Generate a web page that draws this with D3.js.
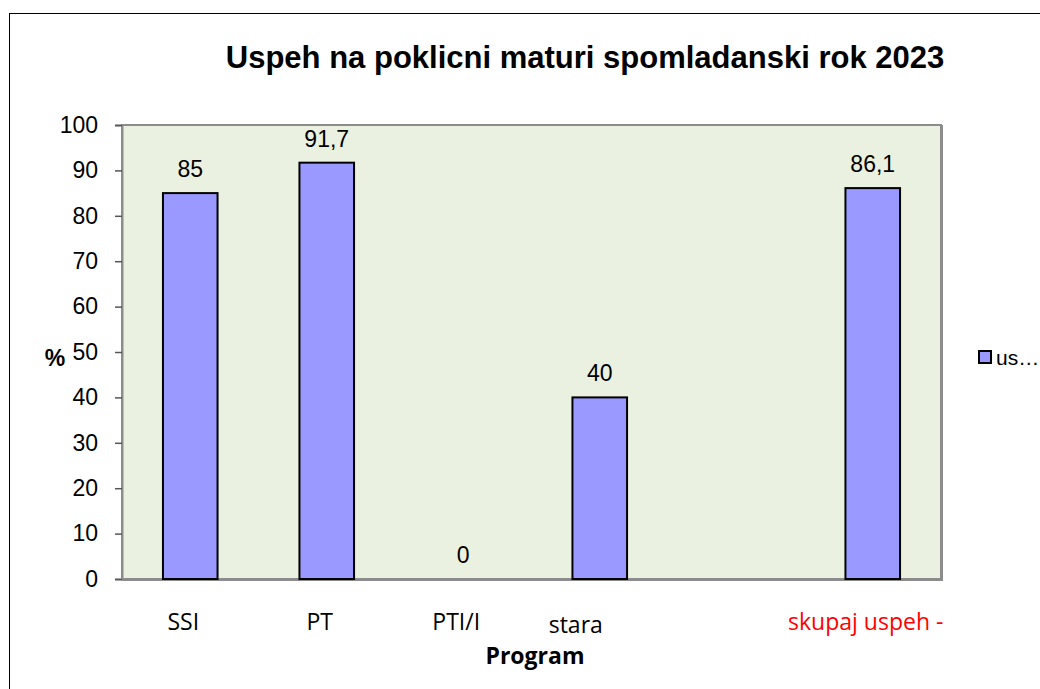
<!DOCTYPE html>
<html>
<head>
<meta charset="utf-8">
<script src="https://cdn.jsdelivr.net/npm/d3@7"></script>
<style>
  body { margin: 0; background: #fff; }
  svg { display: block; }
</style>
</head>
<body>
<div id="plotDiv"></div>
<script>
// --- Data ---
const categories = ["SSI", "PT", "PTI/I", "stara", "", "skupaj uspeh -"];
const values = [85, 91.7, 0, 40, null, 86.1];
const valueLabels = ["85", "91,7", "0", "40", "", "86,1"];
const yTicks = [0, 10, 20, 30, 40, 50, 60, 70, 80, 90, 100];
const seriesName = "us…";

// --- Definitions ---
const width = 1040, height = 689;
const plot = {left: 122, right: 941, top: 125, bottom: 579};
const arial = "'Liberation Sans', Arial, sans-serif";
const calibri = "'Open Sans', 'Noto Sans', sans-serif";

const svg = d3.select("#plotDiv")
  .append("svg")
  .attr("width", width)
  .attr("height", height);

// outer chart border
svg.append("rect")
  .attr("x", 9.5).attr("y", 13.5)
  .attr("width", width + 20).attr("height", height + 20)
  .attr("fill", "none").attr("stroke", "#000").attr("stroke-width", 1);

// --- Scales ---
const x = d3.scaleBand()
  .domain(d3.range(categories.length))
  .range([plot.left, plot.right])
  .padding(0);

const y = d3.scaleLinear()
  .domain([0, 100])
  .range([plot.bottom, plot.top]);

const barW = x.bandwidth() * 0.4;

// --- Plot area ---
svg.append("rect")
  .attr("x", plot.left).attr("y", plot.top)
  .attr("width", plot.right - plot.left).attr("height", plot.bottom - plot.top)
  .attr("fill", "#ebf1e1")
  .attr("stroke", "#8c8c8c").attr("stroke-width", 2);
// shadow-ish right/bottom edge
svg.append("path")
  .attr("d", `M${plot.right + 1},${plot.top} V${plot.bottom + 1} H${plot.left}`)
  .attr("fill", "none").attr("stroke", "#8c8c8c").attr("stroke-width", 2);

// --- Y axis ---
const yAxis = svg.append("g")
  .attr("transform", `translate(${plot.left},0)`)
  .call(d3.axisLeft(y).tickValues(yTicks).tickSize(7).tickPadding(17));
yAxis.select(".domain").attr("stroke", "#8c8c8c").attr("stroke-width", 2);
yAxis.selectAll(".tick line").attr("stroke", "#555").attr("stroke-width", 1.5);
yAxis.selectAll(".tick text")
  .attr("font-family", arial)
  .attr("font-size", 23)
  .attr("fill", "#000");

// --- Bars ---
const bars = categories.map((c, i) => ({c, i, v: values[i], lab: valueLabels[i]}));

svg.append("g").selectAll("rect")
  .data(bars.filter(d => d.v !== null && d.v > 0))
  .join("rect")
  .attr("x", d => x(d.i) + x.bandwidth() / 2 - barW / 2)
  .attr("y", d => y(d.v))
  .attr("width", barW)
  .attr("height", d => y(0) - y(d.v))
  .attr("fill", "#9999ff")
  .attr("stroke", "#000")
  .attr("stroke-width", 2);

// --- Value labels ---
svg.append("g").selectAll("text")
  .data(bars.filter(d => d.v !== null))
  .join("text")
  .attr("x", d => x(d.i) + x.bandwidth() / 2)
  .attr("y", d => y(d.v) - 16)
  .attr("text-anchor", "middle")
  .attr("font-family", arial)
  .attr("font-size", 23)
  .text(d => d.lab);

// --- Category labels ---
svg.append("g").selectAll("text")
  .data(bars)
  .join("text")
  .attr("x", d => x(d.i) + x.bandwidth() / 2 - (d.c === "stara" ? 24 : 7))
  .attr("y", d => d.c === "stara" ? 633 : 630)
  .attr("text-anchor", "middle")
  .attr("font-family", calibri)
  .attr("font-size", 23)
  .attr("fill", d => d.c === "skupaj uspeh -" ? "#ff0000" : "#000")
  .text(d => d.c);

// --- Titles ---
svg.append("text")
  .attr("x", 585).attr("y", 68)
  .attr("text-anchor", "middle")
  .attr("font-family", arial)
  .attr("font-weight", "bold")
  .attr("font-size", 31)
  .text("Uspeh na poklicni maturi spomladanski rok 2023");

svg.append("text")
  .attr("x", 535).attr("y", 664)
  .attr("text-anchor", "middle")
  .attr("font-family", calibri)
  .attr("font-weight", "bold")
  .attr("font-size", 23)
  .text("Program");

svg.append("text")
  .attr("x", 55).attr("y", 366)
  .attr("text-anchor", "middle")
  .attr("font-family", arial)
  .attr("font-weight", "bold")
  .attr("font-size", 23)
  .text("%");

// --- Legend ---
const legend = svg.append("g").attr("transform", "translate(979,351)");
legend.append("rect")
  .attr("width", 12).attr("height", 12)
  .attr("fill", "#9999ff").attr("stroke", "#000").attr("stroke-width", 2);
legend.append("text")
  .attr("x", 17).attr("y", 14)
  .attr("font-family", arial)
  .attr("font-size", 21)
  .text(seriesName);
</script>
</body>
</html>
